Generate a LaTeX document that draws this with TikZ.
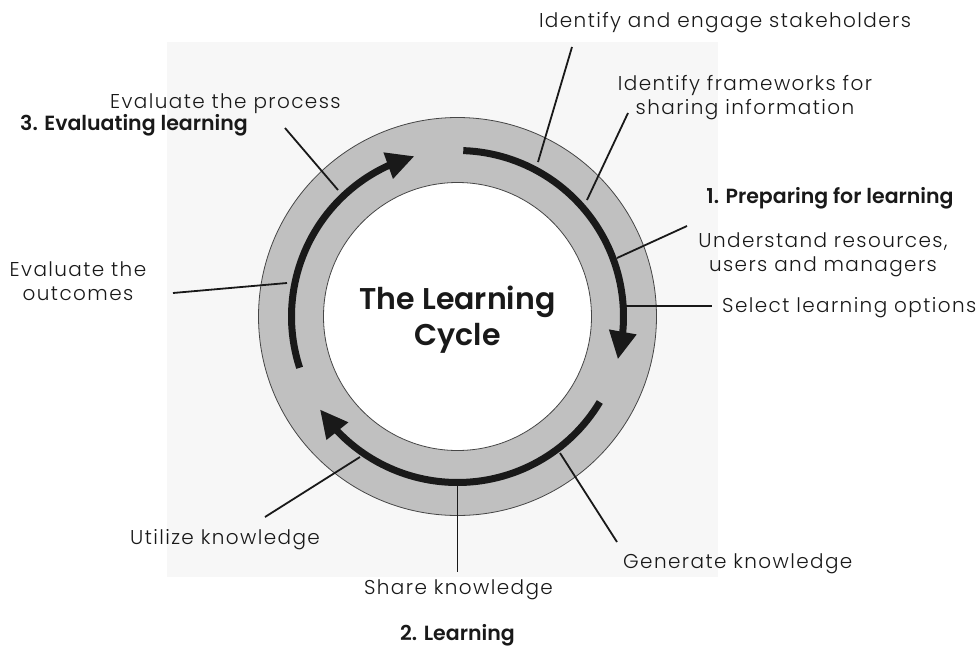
\documentclass[tikz,border=0pt]{standalone}
\usepackage{fontspec}
\setmainfont{Poppins}
\newfontfamily\tagfont{Poppins}[UprightFont=* Light, LetterSpace=7]
\newfontfamily\stagefont{Poppins}[UprightFont=* SemiBold]
\usepackage{tikz}
\usetikzlibrary{arrows.meta, bending, positioning}
\definecolor{ringgray}{RGB}{192,192,192}
\definecolor{ringedge}{RGB}{70,70,70}
\definecolor{panelgray}{RGB}{247,247,247}
\definecolor{inkdark}{RGB}{25,25,25}
\tikzset{
  tag/.style={font=\tagfont\fontsize{20}{24}\selectfont, text=inkdark,
    inner sep=0pt, align=center},
  stage/.style={font=\stagefont\fontsize{20.5}{24}\selectfont, text=inkdark,
    inner sep=0pt},
  cycletitle/.style={font=\stagefont\fontsize{30}{36}\selectfont, text=inkdark,
    inner sep=0pt, align=center},
  leader/.style={line width=1.8pt, color=inkdark},
  cyclearrow/.style={line width=7pt, color=inkdark,
    -{Triangle[length=28pt, width=26pt, flex]}}
}

\begin{document}
\begin{tikzpicture}[x=1pt, y=1pt]
  \useasboundingbox (-457.5,-329.5) rectangle (521.5,316.5);
  \fill[panelgray] (-290.5,-260.5) rectangle (260.5,274.5);

  % ring
  \coordinate (O) at (0,0);
  \fill[ringgray, draw=ringedge, line width=0.8pt] (O) circle[radius=199];
  \fill[white, draw=ringedge, line width=0.8pt] (O) circle[radius=134];

  % the three stages
  \draw[cyclearrow] (88:166) arc[start angle=88, end angle=-15, radius=166];
  \draw[cyclearrow] (-31:166) arc[start angle=-31, end angle=-146, radius=166];
  \draw[cyclearrow] (198:166) arc[start angle=198, end angle=105, radius=166];

  \node[cycletitle, anchor=base] (title) at (0,-28.5) {The Learning\\Cycle};

  % leader ends
  \coordinate (stakeIn) at (80.5,154.5);    \coordinate (stakeOut) at (114.5,269.5);
  \coordinate (frameIn) at (129.5,116.5);   \coordinate (frameOut) at (170.5,203.5);
  \coordinate (underIn) at (159.5,58.5);    \coordinate (underOut) at (229.5,90.5);
  \coordinate (selectIn) at (167.5,10.5);   \coordinate (selectOut) at (254.5,10.5);
  \coordinate (genIn) at (102.5,-136.5);    \coordinate (genOut) at (159.5,-225.5);
  \coordinate (shareIn) at (0,-165.5);      \coordinate (shareOut) at (0,-255);
  \coordinate (utilIn) at (-97.5,-140.5);   \coordinate (utilOut) at (-192.5,-200.5);
  \coordinate (outcIn) at (-170.5,33.5);    \coordinate (outcOut) at (-284.5,23.5);
  \coordinate (procIn) at (-119.5,126.5);   \coordinate (procOut) at (-172.5,188.5);

  \draw[leader] (stakeIn) -- (stakeOut);
  \draw[leader] (frameIn) -- (frameOut);
  \draw[leader] (underIn) -- (underOut);
  \draw[leader] (selectIn) -- (selectOut);
  \draw[leader] (genIn) -- (genOut);
  \draw[leader] (shareIn) -- (shareOut);
  \draw[leader] (utilIn) -- (utilOut);
  \draw[leader] (outcIn) -- (outcOut);
  \draw[leader] (procIn) -- (procOut);

  % labels (base = last line)
  \node[tag, anchor=base] (stake) at (267.5,288.5) {Identify and engage stakeholders};
  \node[tag, anchor=base] (frame) at (287.5,202.5) {Identify frameworks for\\sharing information};
  \node[stage, anchor=base] (prep) at (372.5,113.5) {1. Preparing for learning};
  \node[tag, anchor=base] (under) at (365.5,45.5) {Understand resources,\\users and managers};
  \node[tag, anchor=base west] (select) at (264.5,4.5) {Select learning options};
  \node[tag, anchor=base west] (gen) at (165.5,-251.5) {Generate knowledge};
  \node[tag, anchor=base] (share) at (1,-277.5) {Share knowledge};
  \node[stage, anchor=base] (learn) at (0,-323.5) {2. Learning};
  \node[tag, anchor=base west] (util) at (-327.5,-227.5) {Utilize knowledge};
  \node[tag, anchor=base] (outc) at (-379.5,16.5) {Evaluate the\\outcomes};
  \node[tag, anchor=base west] (proc) at (-347.5,208.5) {Evaluate the process};
  \node[stage, anchor=base east] (evalst) at (-209.5,186.5) {3. Evaluating learning};
\end{tikzpicture}
\end{document}
